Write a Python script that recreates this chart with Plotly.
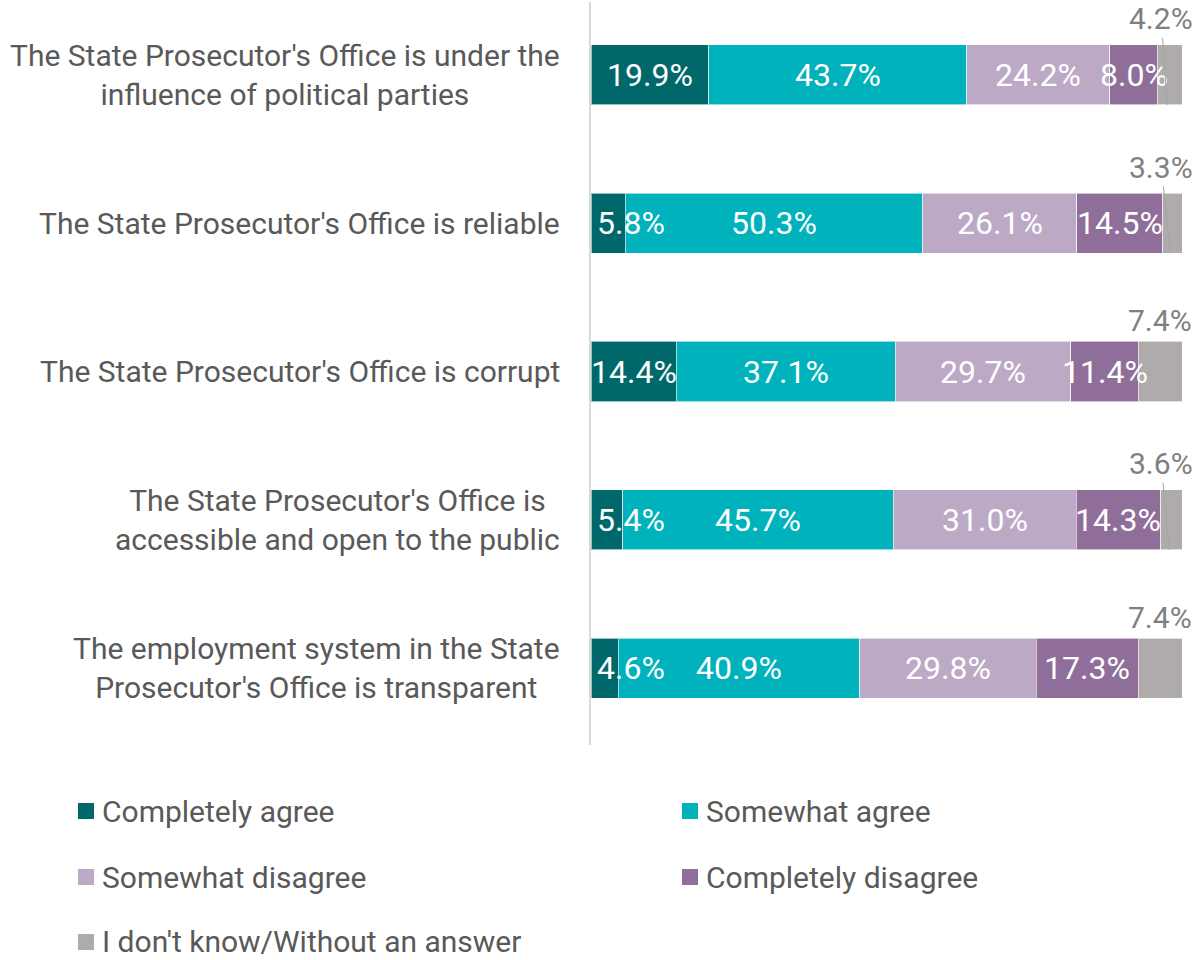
import plotly.graph_objects as go

categories = [
    "The State Prosecutor's Office is under the<br>influence of political parties",
    "The State Prosecutor's Office is reliable",
    "The State Prosecutor's Office is corrupt",
    "The State Prosecutor's Office is<br>accessible and open to the public",
    "The employment system in the State<br>Prosecutor's Office is transparent",
]
series_names = ["Completely agree", "Somewhat agree", "Somewhat disagree",
                "Completely disagree", "I don't know/Without an answer"]
completely_agree = [19.9, 5.8, 14.4, 5.4, 4.6]
somewhat_agree = [43.7, 50.3, 37.1, 45.7, 40.9]
somewhat_disagree = [24.2, 26.1, 29.7, 31.0, 29.8]
completely_disagree = [8.0, 14.5, 11.4, 14.3, 17.3]
dont_know = [4.2, 3.3, 7.4, 3.6, 7.4]

series_values = [completely_agree, somewhat_agree, somewhat_disagree,
                 completely_disagree, dont_know]
colors = ["#00686B", "#00B2BC", "#BCA9C6", "#8F6F9A", "#AEABAA"]

FONT = "Roboto, Arial, sans-serif"
FS = 30
FS_LBL = 32
FS_OUT = 30
TXT = "#595959"

W, H = 1198, 960
ML, MR, MT, MB = 591, 16, 2, 215
PW, PH = W - ML - MR, H - MT - MB

ypos = list(range(len(categories)))

fig = go.Figure()
for name, vals, col in zip(series_names, series_values, colors):
    fig.add_trace(go.Bar(
        y=ypos, x=vals, name=name, orientation="h",
        marker=dict(color=col, line=dict(color="rgba(255,255,255,0.6)", width=1)),
        width=0.405, showlegend=False, hoverinfo="x+name",
    ))

annotations = []
# data labels
for i in ypos:
    cum = 0.0
    for s, vals in enumerate(series_values):
        v = vals[i]
        if s < len(series_values) - 1:
            lbl = dict(
                x=cum + v / 2, y=i, xref="x", yref="y", text=f"{v:.1f}%",
                showarrow=False, font=dict(family=FONT, size=FS_LBL, color="white"),
                xanchor="center", yanchor="middle",
            )
            if s == 0 and v < 8:
                lbl.update(x=0, xanchor="left", xshift=4)
            annotations.append(lbl)
        else:
            small = v < 5
            if small:
                annotations.append(dict(
                    x=cum + v * 0.4, y=i + 0.2025, xref="x", yref="y",
                    text=f"{v:.1f}%", showarrow=True, arrowhead=0,
                    arrowwidth=1, arrowcolor="#A6A6A6",
                    axref="x", ax=96.5, ayref="pixel", ay=-86,
                    font=dict(family=FONT, size=FS_OUT, color="#808080"),
                ))
            else:
                annotations.append(dict(
                    x=100, y=i, xref="x", yref="y", text=f"{v:.1f}%",
                    showarrow=False, xanchor="right", yanchor="middle",
                    xshift=12, yshift=51,
                    font=dict(family=FONT, size=FS_OUT, color="#808080"),
                ))
        cum += v

# category labels
for i, c in enumerate(categories):
    annotations.append(dict(
        x=-29 / PW, y=i, xref="paper", yref="y", text=c, showarrow=False,
        xanchor="right", yanchor="middle", align="center",
        font=dict(family=FONT, size=FS, color=TXT),
    ))

# custom legend (positions in page pixels)
shapes = []
leg_pos = [(78, 811), (682, 811), (78, 877), (682, 877), (78, 942)]
for (px, py), name, col in zip(leg_pos, series_names, colors):
    x0 = (px - ML) / PW
    x1 = (px + 16 - ML) / PW
    y0 = (MT + PH - (py + 8)) / PH
    y1 = (MT + PH - (py - 8)) / PH
    shapes.append(dict(type="rect", xref="paper", yref="paper",
                       x0=x0, x1=x1, y0=y0, y1=y1,
                       fillcolor=col, line=dict(width=0)))
    annotations.append(dict(
        x=(px + 22 - ML) / PW, y=(MT + PH - py) / PH, xref="paper", yref="paper",
        text=name, showarrow=False, xanchor="left", yanchor="middle",
        font=dict(family=FONT, size=FS, color=TXT),
    ))

fig.update_layout(
    width=W, height=H, barmode="stack",
    margin=dict(l=ML, r=MR, t=MT, b=MB),
    plot_bgcolor="white", paper_bgcolor="white",
    xaxis=dict(range=[0, 100], visible=False, fixedrange=True),
    yaxis=dict(range=[4.519, -0.492], showticklabels=False,
               showgrid=False, zeroline=False, showline=True,
               linecolor="#D9D9D9", linewidth=2, ticks="", fixedrange=True),
    annotations=annotations, shapes=shapes,
    font=dict(family=FONT, size=FS, color=TXT),
)

fig.write_html(
    "out.html",
    config={"displayModeBar": False},
    post_script="document.body.style.margin='0';document.body.style.overflow='hidden';",
)
